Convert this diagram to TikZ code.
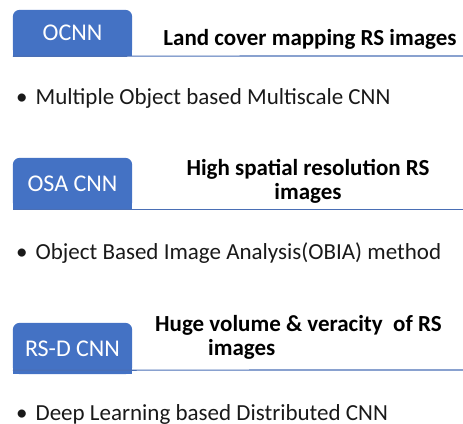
\documentclass[tikz,border=0pt]{standalone}
\usepackage{fontspec}
\setmainfont{Carlito}
\usetikzlibrary{backgrounds}
\definecolor{tabblue}{HTML}{4472C4}
\definecolor{lineblue}{HTML}{4A6FB5}
\tikzset{
  tabnode/.style={minimum width=119pt, minimum height=46pt, inner sep=0pt, text=white, font=\fontsize{24}{28}\selectfont},
  titlenode/.style={inner sep=0pt, font=\bfseries\fontsize{23}{24}\selectfont, align=center, text=black},
  bulletnode/.style={inner sep=0pt, anchor=west, font=\fontsize{23}{24}\selectfont, text=black!90},
  rule/.style={draw=lineblue, line width=1.2pt},
  tabfill/.style={fill=tabblue}
}
\begin{document}
\begin{tikzpicture}[x=1pt,y=1pt]
\useasboundingbox (0,0) rectangle (463,-423);
% tabs
\node[tabnode] (t1) at (72.5,-33) {OCNN};
\node[tabnode, minimum height=51pt] (t2) at (72.5,-183.5) {OSA CNN};
\node[tabnode, minimum height=51pt] (t3) at (72.5,-348.5) {RS-D CNN};
\begin{scope}[on background layer]
  \foreach \t in {t1,t2,t3}{
    \fill[tabfill, rounded corners=7pt] (\t.south west) rectangle (\t.north east);
    \fill[tabfill] (\t.south west) rectangle (\t.east);
  }
\end{scope}
% rules
\coordinate (e1) at (463,-56);
\coordinate (e2) at (463,-209);
\coordinate (e3) at (463,-370);
\draw[rule] (t1.south west) -- (e1);
\draw[rule] (t2.south west) -- (t2.south west -| e2);
\draw[rule] ([yshift=4pt]t3.south west) -- (e3);
% titles
\node[titlenode] (h1) at (310,-39) {Land cover mapping RS images};
\node[titlenode] (h2) at (308,-181) {High spatial resolution RS\\images};
\node[titlenode, align=left, anchor=north west] (h3) at (155,-315) {Huge volume \& veracity\ \ of RS\\\hspace*{53pt}images};
% bullets
\node[bulletnode] (b1) at (16,-98) {\textbullet\hspace{8pt}Multiple Object based Multiscale CNN};
\node[bulletnode] (b2) at (16,-253) {\textbullet\hspace{8pt}Object Based Image Analysis(OBIA) method};
\node[bulletnode] (b3) at (16,-414) {\textbullet\hspace{8pt}Deep Learning based Distributed CNN};
\end{tikzpicture}
\end{document}
